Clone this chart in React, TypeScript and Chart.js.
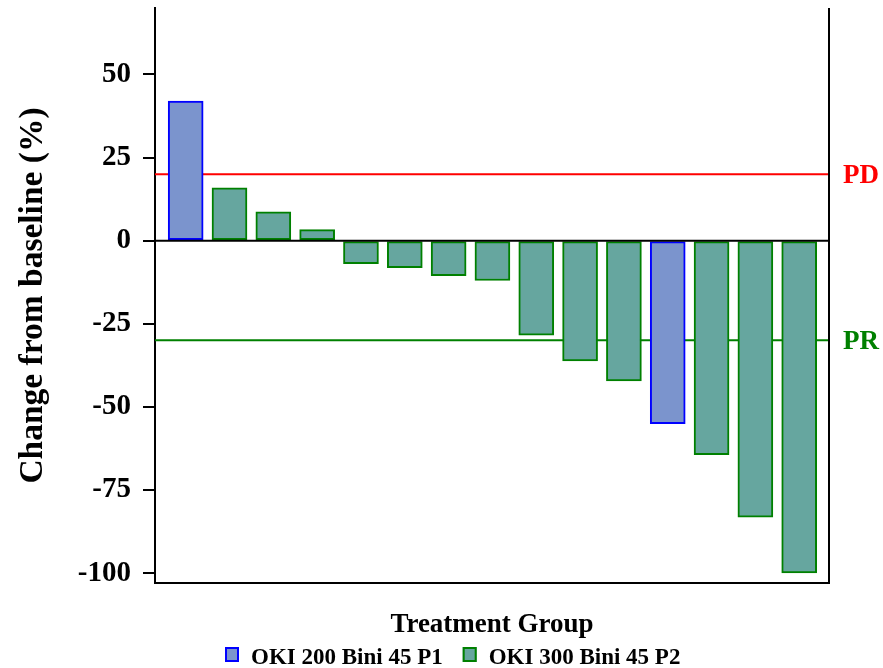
import React, { useEffect, useRef } from "react";
import { Chart, registerables } from "chart.js";

Chart.register(...registerables);

// ---- data ----
const patients = [1, 2, 3, 4, 5, 6, 7, 8, 9, 10, 11, 12, 13, 14, 15];
const changes = [42, 15.9, 8.7, 3.3, -6.9, -8.1, -10.5, -12, -28.4, -36.2, -42.2, -55.1, -64.4, -83.2, -100];
const groups = ["P1", "P2", "P2", "P2", "P2", "P2", "P2", "P2", "P2", "P2", "P2", "P1", "P2", "P2", "P2"];
const groupKeys = ["P1", "P2"];
const groupLabels = ["OKI 200 Bini 45 P1", "OKI 300 Bini 45 P2"];
const yTicks = [-100, -75, -50, -25, 0, 25, 50];
const refLabels = ["PD", "PR"];
const refValues = [20, -30];

// ---- styles ----
const FONT = "'Liberation Serif', 'Times New Roman', serif";
const fills = ["#7B94CD", "#66A69F"];
const borders = ["#0000FF", "#008000"];
const refColors = ["#FF0000", "#008000"];

const refPlugin = {
  id: "refPlugin",
  beforeDatasetsDraw(chart: any) {
    const { ctx, chartArea } = chart;
    const y = chart.scales.y;
    ctx.save();
    refValues.forEach((v, i) => {
      const py = y.getPixelForValue(v);
      ctx.strokeStyle = refColors[i];
      ctx.lineWidth = 2;
      ctx.beginPath();
      ctx.moveTo(chartArea.left, py);
      ctx.lineTo(chartArea.right, py);
      ctx.stroke();
    });
    ctx.restore();
  },
  afterDatasetsDraw(chart: any) {
    const { ctx, chartArea } = chart;
    const y = chart.scales.y;
    ctx.save();
    // zero line
    const p0 = y.getPixelForValue(0);
    ctx.strokeStyle = "#000";
    ctx.lineWidth = 2;
    ctx.beginPath();
    ctx.moveTo(chartArea.left, p0);
    ctx.lineTo(chartArea.right, p0);
    ctx.stroke();
    // right border
    ctx.beginPath();
    ctx.moveTo(chartArea.right, chartArea.top);
    ctx.lineTo(chartArea.right, chartArea.bottom + 1);
    ctx.stroke();
    // ref labels
    ctx.font = `bold 27px ${FONT}`;
    ctx.textBaseline = "middle";
    ctx.textAlign = "left";
    refValues.forEach((v, i) => {
      ctx.fillStyle = refColors[i];
      ctx.fillText(refLabels[i], chartArea.right + 14, y.getPixelForValue(v) + 2);
    });
    ctx.restore();
  },
  afterDraw(chart: any) {
    const { ctx } = chart;
    ctx.save();
    ctx.font = `bold 23px ${FONT}`;
    ctx.textBaseline = "alphabetic";
    ctx.textAlign = "left";
    let x = 225;
    const boxW = 14;
    const boxH = 15;
    const baseY = 664;
    chart.data.datasets.forEach((ds: any) => {
      ctx.fillStyle = ds.backgroundColor;
      ctx.fillRect(x, 647, boxW, boxH);
      ctx.strokeStyle = ds.borderColor;
      ctx.lineWidth = 2;
      ctx.strokeRect(x + 1, 648, boxW - 2, boxH - 2);
      ctx.fillStyle = "#000";
      const tx = x + boxW + 12;
      ctx.fillText(ds.label, tx, baseY);
      x = tx + ctx.measureText(ds.label).width + 20;
    });
    ctx.restore();
  },
};

export default function App() {
  const ref = useRef<HTMLCanvasElement | null>(null);
  useEffect(() => {
    if (!ref.current) return;
    const datasets = groupKeys.map((g, gi) => ({
      label: groupLabels[gi],
      data: patients
        .map((p, i) => ({ x: p, y: changes[i], g: groups[i] }))
        .filter((d) => d.g === g)
        .map((d) => ({ x: d.x, y: d.y })),
      backgroundColor: fills[gi],
      borderColor: borders[gi],
      borderWidth: 2,
      borderSkipped: false,
      barThickness: 35,
      grouped: false,
    }));
    const chart = new Chart(ref.current, {
      type: "bar",
      data: { datasets } as any,
      plugins: [refPlugin],
      options: {
        animation: false,
        responsive: false,
        maintainAspectRatio: false,
        layout: { padding: { top: 8, right: 54, bottom: 27, left: 0 } },
        plugins: { legend: { display: false }, tooltip: { enabled: false } },
        scales: {
          x: {
            type: "linear",
            offset: false,
            min: 0.3,
            max: 15.68,
            ticks: { display: false },
            grid: { display: false, drawTicks: false },
            border: { display: true, color: "#000", width: 2 },
            title: {
              display: true,
              text: "Treatment Group",
              color: "#000",
              font: { family: FONT, size: 27, weight: "bold" },
              padding: { top: 27, bottom: 0 },
            },
            afterFit: (s: any) => {
              s.height = 58;
              s.paddingLeft = 0;
              s.paddingRight = 0;
            },
          },
          y: {
            min: -103,
            max: 70,
            afterBuildTicks: (s: any) => {
              s.ticks = yTicks.map((v) => ({ value: v }));
            },
            afterFit: (s: any) => {
              s.width = 155;
              s.paddingTop = 0;
              s.paddingBottom = 0;
            },
            ticks: {
              color: "#000",
              padding: 12,
              font: { family: FONT, size: 29, weight: "bold" },
            },
            grid: {
              drawOnChartArea: false,
              drawTicks: true,
              tickLength: 12,
              color: "#000",
              lineWidth: 2,
            },
            border: { display: true, color: "#000", width: 2 },
            title: {
              display: true,
              text: "Change from baseline (%)",
              color: "#000",
              font: { family: FONT, size: 33.5, weight: "bold" },
              padding: { top: 13, bottom: 0 },
            },
          },
        },
      } as any,
    });
    return () => chart.destroy();
  }, []);
  return (
    <div style={{ position: "absolute", left: 0, top: 0, width: 883, height: 668 }}>
      <canvas ref={ref} width={883} height={668} style={{ display: "block" }} />
    </div>
  );
}
